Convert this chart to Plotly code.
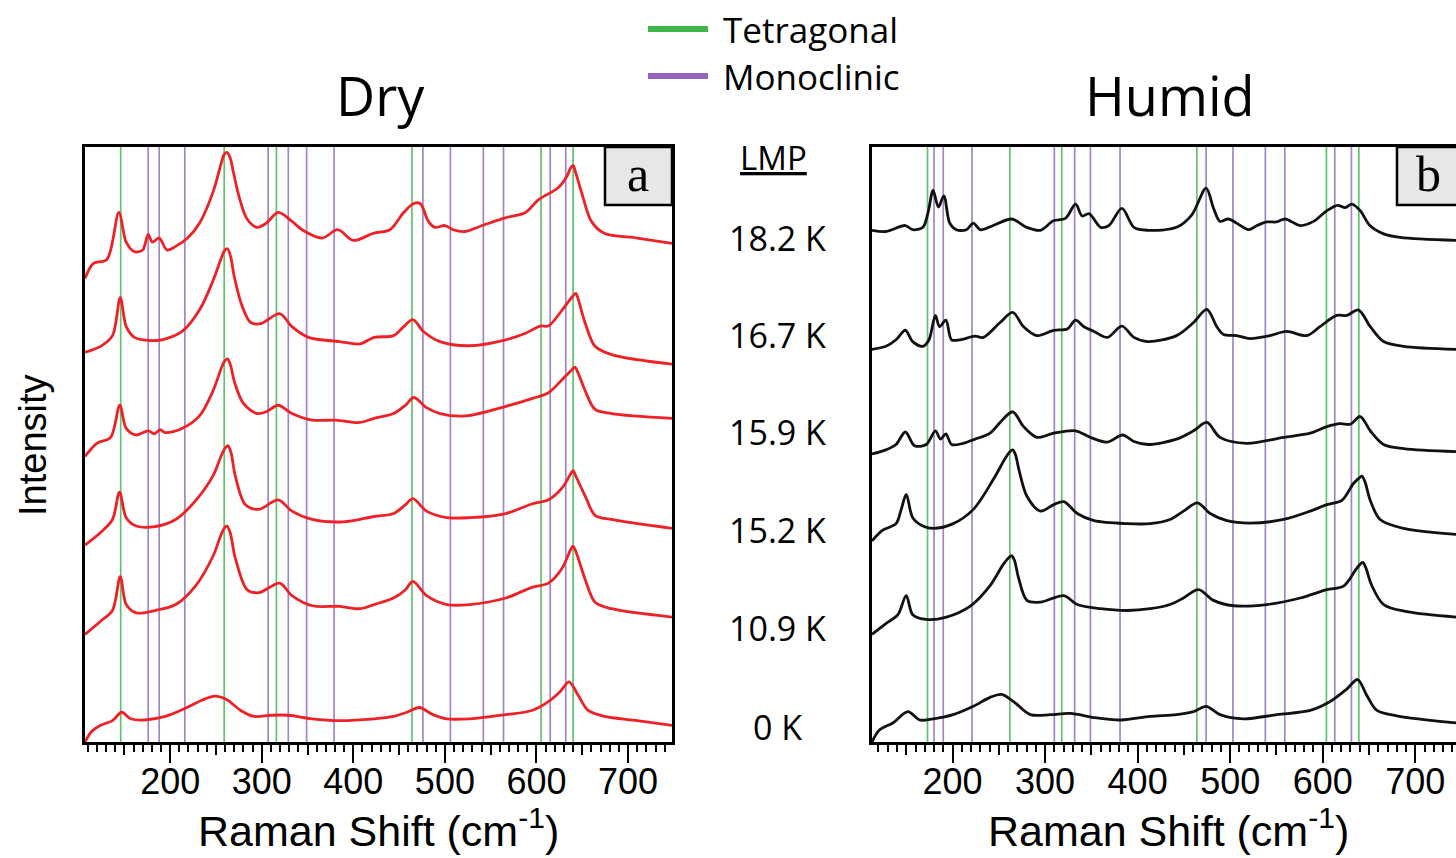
import plotly.graph_objects as go

W, H = 1456, 858

# ---------------- data ----------------
X_RANGE_A = [107, 748]
X_RANGE_B = [113, 744]
Y_RANGE = [0, 100]

TICK_MID = [150, 250, 350, 450, 550, 650, 750]

TETRA_A = [146, 259, 316, 464, 605, 640]
MONO_A = [176, 188, 216, 307, 329, 349, 379, 476, 506, 542, 564, 615, 632]
TETRA_B = [173, 262, 318, 464, 604, 639]
MONO_B = [180, 190, 221, 310, 332, 349, 381, 474, 503, 538, 559, 613, 631]

LMP_LABELS = ["18.2 K", "16.7 K", "15.9 K", "15.2 K", "10.9 K", "0 K"]

# Dry spectra (offset intensity, a.u.)
DRY_182_X = [107, 116, 131, 144, 152, 161, 170, 176, 180.5, 188, 196.5, 206, 219, 232, 247, 256, 258.5, 262, 265.5, 269, 275, 284, 295, 305, 318, 333, 344, 366, 383, 400, 422, 440, 455, 466, 473, 482, 489, 500, 509, 522, 541, 566, 588, 602, 624, 633, 637, 640, 643, 649, 660, 674, 710, 748]
DRY_182_Y = [77.9, 80.4, 81.1, 89.0, 84.0, 82.4, 82.7, 85.3, 84.0, 84.7, 82.7, 83.3, 84.7, 87.2, 92.5, 97.4, 98.6, 99.1, 98.2, 95.8, 91.8, 87.9, 86.5, 87.2, 89.0, 87.5, 86.1, 84.7, 86.1, 84.3, 85.5, 86.1, 89.0, 90.5, 90.5, 87.5, 86.5, 86.8, 86.1, 85.8, 86.8, 88.1, 89.0, 91.1, 93.2, 95.0, 96.4, 96.9, 95.6, 92.5, 87.5, 85.5, 84.7, 83.8]

DRY_167_X = [107, 124, 137, 145.5, 152, 161, 176, 191, 213, 232, 247, 256, 259.5, 262.6, 266, 270, 278.5, 288, 299, 319.6, 333, 351, 385, 407, 422.7, 444, 455, 465, 476.6, 494.6, 527, 566.5, 588, 604, 613, 628, 640, 643, 646, 653, 664, 682, 748]
DRY_167_Y = [65.5, 66.5, 68.3, 74.7, 69.8, 68.0, 67.5, 67.6, 69.0, 72.6, 77.6, 81.4, 82.6, 82.9, 81.6, 78.2, 73.3, 70.5, 70.3, 72.0, 69.8, 68.0, 67.3, 66.9, 68.0, 68.3, 69.8, 71.0, 69.0, 67.3, 66.6, 67.6, 68.7, 69.9, 69.9, 72.6, 75.0, 75.4, 74.2, 70.5, 66.5, 65.1, 63.5]

DRY_159_X = [107, 120, 135, 145, 152, 163, 176, 182.7, 189, 194.6, 213, 232, 247, 256, 259.5, 262.6, 266, 270, 280, 295, 305, 318, 333, 355, 381, 407, 422.7, 444, 457, 466, 480, 494.6, 523, 566.5, 595, 613, 628, 639, 642, 645.5, 653, 664, 682, 748]
DRY_159_Y = [48.0, 50.2, 51.2, 56.6, 52.7, 51.6, 52.3, 51.8, 52.5, 52.0, 52.7, 54.8, 59.1, 62.9, 64.0, 64.4, 63.3, 60.6, 56.9, 55.2, 55.5, 56.6, 55.2, 54.1, 54.1, 53.7, 54.4, 55.2, 56.6, 57.9, 56.2, 55.2, 54.8, 56.4, 57.7, 58.7, 60.9, 62.6, 63.0, 62.0, 59.1, 55.9, 55.2, 54.4]

DRY_152_X = [107, 124, 137, 144.7, 152, 163, 183.5, 206, 228, 247, 256, 260, 263, 266.5, 271, 282, 297, 318, 333, 355, 389, 422.7, 444, 457, 465, 480, 502, 527, 566.5, 595, 613, 628, 637.5, 640, 643.5, 653, 664, 682, 748]
DRY_152_Y = [33.1, 35.2, 37.4, 42.0, 37.7, 36.3, 36.2, 37.4, 40.6, 44.8, 48.2, 49.4, 49.8, 48.6, 44.8, 39.9, 39.1, 40.7, 38.8, 37.4, 37.0, 37.9, 38.4, 39.9, 40.9, 38.8, 37.7, 37.7, 38.4, 40.0, 40.7, 42.7, 45.1, 45.6, 44.5, 41.4, 38.1, 37.4, 35.9]

DRY_109_X = [107, 124, 137, 145.5, 152, 163, 183.5, 206, 228, 247, 255, 259, 262, 265.5, 271, 284, 297, 319.6, 333, 355, 385, 407, 422.7, 444, 457, 465, 480, 502, 527, 566.5, 595, 613, 628, 637.5, 640, 643.5, 653, 664, 682, 748]
DRY_109_Y = [18.1, 20.3, 22.1, 27.8, 23.1, 21.7, 22.1, 23.1, 26.3, 31.3, 34.6, 35.9, 36.3, 35.2, 31.0, 25.6, 25.1, 26.7, 24.6, 22.9, 22.8, 22.4, 23.1, 24.2, 25.6, 27.0, 24.6, 23.1, 23.1, 24.2, 26.0, 26.7, 29.2, 32.4, 32.9, 31.8, 27.4, 23.5, 22.4, 21.0]

DRY_0_X = [107, 114.5, 124, 137, 147, 157, 172, 194.6, 217, 235.7, 249, 262, 277, 292, 310, 329, 355, 385, 422.7, 444, 458.6, 472, 487, 502, 527, 566.5, 595, 613, 626, 635.6, 645.7, 656.5, 674.5, 710, 748]
DRY_0_Y = [0.0, 1.8, 2.8, 3.6, 5.0, 3.9, 3.7, 4.3, 5.7, 7.1, 7.7, 7.1, 5.3, 4.3, 4.5, 4.5, 3.9, 3.6, 3.9, 4.3, 5.0, 5.8, 4.6, 3.9, 3.9, 4.6, 5.3, 6.8, 8.5, 10.1, 7.8, 5.3, 4.3, 3.6, 2.8]

# Humid spectra
HUM_182_X = [113, 128, 149, 157, 168, 173.6, 179, 184.8, 190.6, 197, 204, 215, 222.5, 230, 244, 264, 280, 295, 309, 322, 333, 340, 347.5, 360, 369, 383, 396, 411, 442, 458.6, 474, 482, 489, 498, 511, 520, 529, 539.6, 550, 559.5, 575.7, 590, 604.5, 616, 624.3, 631.5, 640.5, 651, 665.8, 683.8, 744]
HUM_182_Y = [86.0, 85.8, 86.8, 86.1, 86.5, 89.0, 92.7, 89.9, 91.8, 87.2, 86.1, 86.1, 87.2, 86.1, 86.8, 87.9, 86.5, 86.0, 87.6, 88.0, 90.4, 88.4, 88.8, 86.5, 86.8, 89.7, 86.5, 86.0, 86.5, 88.6, 93.1, 89.7, 87.5, 87.9, 86.8, 86.1, 86.8, 87.4, 87.4, 87.9, 86.8, 87.5, 89.3, 90.2, 89.8, 90.4, 89.3, 86.8, 85.4, 84.8, 84.3]

HUM_167_X = [113, 128, 139, 149, 157, 168, 174.6, 181.5, 186, 192.8, 199, 208, 224.3, 233.3, 251.4, 265, 276.8, 291.3, 309.4, 324, 333, 342, 352.9, 367.4, 383, 396, 411, 442, 460.4, 474.8, 485.6, 492.8, 507, 521.6, 543, 561, 583, 597, 615, 626, 638.7, 651.4, 665.8, 687.4, 744]
HUM_167_Y = [66.0, 66.5, 67.6, 69.2, 67.3, 66.5, 67.6, 71.7, 69.8, 70.9, 67.6, 67.6, 68.2, 68.0, 70.5, 72.2, 69.8, 68.3, 69.2, 69.4, 70.9, 69.8, 69.0, 68.0, 69.9, 68.0, 67.3, 68.3, 70.5, 72.7, 69.8, 68.5, 68.3, 67.8, 68.3, 69.0, 68.3, 69.8, 71.7, 71.7, 72.6, 69.8, 67.3, 66.5, 66.0]

HUM_159_X = [113, 128, 139, 149, 159, 171.7, 181.5, 187, 192.8, 199, 211.6, 224.3, 240.6, 251.4, 265, 276.8, 291.3, 309.4, 333, 349, 367.4, 383.7, 396, 411, 442, 460.4, 474.8, 489, 518, 557.7, 586.5, 604.5, 619, 629.7, 640.5, 651.4, 665.8, 687.4, 744]
HUM_159_Y = [48.4, 49.1, 50.0, 52.1, 49.8, 50.0, 52.3, 50.9, 51.8, 50.0, 50.2, 50.9, 51.9, 53.7, 55.5, 53.0, 51.2, 51.9, 52.3, 51.2, 50.4, 51.6, 50.5, 50.0, 50.9, 52.3, 53.7, 51.2, 50.2, 51.2, 51.9, 53.0, 53.5, 53.4, 54.7, 52.3, 50.0, 49.3, 48.8]

HUM_152_X = [113, 124.6, 139, 144.6, 150, 157, 168, 179, 200.7, 222.5, 244, 257, 262, 265, 268, 272, 280.4, 295, 309.4, 320.3, 334.8, 352.9, 389, 413.5, 435, 449.5, 464.7, 478.4, 496.4, 521.6, 557.7, 586.5, 604.5, 620.7, 633, 639.5, 642.3, 645.5, 651.4, 662, 687.4, 744]
HUM_152_Y = [33.8, 35.6, 36.7, 39.1, 41.6, 37.7, 36.3, 35.9, 36.7, 39.1, 44.1, 47.7, 48.8, 49.1, 48.3, 45.6, 41.3, 38.8, 39.9, 40.4, 38.4, 37.2, 36.7, 36.7, 37.4, 38.8, 40.2, 38.4, 37.2, 36.8, 37.4, 38.8, 39.9, 40.6, 43.4, 44.4, 44.7, 43.8, 40.6, 37.4, 35.9, 34.9]

HUM_109_X = [113, 128, 141, 150, 157, 171.7, 193.5, 218.8, 240.6, 255, 261, 264, 267, 271, 280.4, 295, 320.3, 334.8, 360, 389, 413.5, 435, 449.5, 465.8, 482, 503.6, 539.6, 575.7, 604.5, 622.5, 635, 640.5, 643.4, 646.5, 653, 665.8, 691, 744]
HUM_109_Y = [18.1, 19.9, 21.4, 24.6, 21.4, 20.6, 21.0, 22.8, 26.3, 29.9, 31.0, 31.3, 30.5, 27.8, 23.8, 23.5, 24.6, 23.1, 22.4, 22.1, 22.4, 23.1, 24.2, 25.6, 23.8, 22.9, 23.1, 24.2, 25.6, 26.2, 28.8, 29.9, 30.2, 29.3, 26.3, 23.1, 21.9, 21.0]

HUM_0_X = [113, 121, 135.5, 151.8, 164.5, 179, 200.7, 222.5, 240.6, 253, 266, 284, 306, 327.5, 352.9, 382, 413.5, 442, 460.4, 474, 489, 514.4, 550.5, 586.5, 608, 626, 637.7, 647.7, 658.6, 680, 744]
HUM_0_Y = [0.0, 2.0, 3.2, 5.1, 3.7, 3.9, 4.6, 6.0, 7.5, 8.0, 6.8, 4.6, 4.6, 4.8, 4.1, 3.7, 4.3, 4.6, 5.1, 6.0, 4.6, 3.9, 4.6, 5.3, 6.8, 8.9, 10.5, 7.8, 5.3, 4.4, 3.2]

DRY_SERIES = [(DRY_182_X, DRY_182_Y), (DRY_167_X, DRY_167_Y), (DRY_159_X, DRY_159_Y),
              (DRY_152_X, DRY_152_Y), (DRY_109_X, DRY_109_Y), (DRY_0_X, DRY_0_Y)]
HUM_SERIES = [(HUM_182_X, HUM_182_Y), (HUM_167_X, HUM_167_Y), (HUM_159_X, HUM_159_Y),
              (HUM_152_X, HUM_152_Y), (HUM_109_X, HUM_109_Y), (HUM_0_X, HUM_0_Y)]

# ---------------- styling ----------------
RED = "#ee2127"
BLACK = "#111111"
GREEN_LINE = "#62c46a"
PURPLE_LINE = "#a385cc"
GREEN_LEG = "#3db54a"
PURPLE_LEG = "#9363bd"
SANS = "Open Sans, Noto Sans, sans-serif"
ARIAL = "Liberation Sans, Arial, sans-serif"
SERIF = "Liberation Serif, Times New Roman, serif"


def px(x):
    return x / W


def py(y):
    return 1 - y / H


XA = [px(85), px(672)]
XB = [px(872), 1.0]
YD = [py(742), py(147)]

fig = go.Figure()

for xs, ys in DRY_SERIES:
    fig.add_trace(go.Scatter(x=xs, y=ys, mode="lines", xaxis="x", yaxis="y",
                             line=dict(color=RED, width=2.8, shape="spline", smoothing=0.9),
                             showlegend=False, hoverinfo="skip"))
for xs, ys in HUM_SERIES:
    fig.add_trace(go.Scatter(x=xs, y=ys, mode="lines", xaxis="x2", yaxis="y2",
                             line=dict(color=BLACK, width=2.8, shape="spline", smoothing=0.9),
                             showlegend=False, hoverinfo="skip"))
# empty traces so the overlay tick axes are created
fig.add_trace(go.Scatter(x=[], y=[], xaxis="x3", yaxis="y", showlegend=False))
fig.add_trace(go.Scatter(x=[], y=[], xaxis="x4", yaxis="y2", showlegend=False))

shapes = []
for xr, yr, tet, mono in (("x", "y domain", TETRA_A, MONO_A), ("x2", "y2 domain", TETRA_B, MONO_B)):
    for v in mono:
        shapes.append(dict(type="line", xref=xr, yref=yr, x0=v, x1=v, y0=0, y1=1,
                           line=dict(color=PURPLE_LINE, width=1.7), layer="below"))
    for v in tet:
        shapes.append(dict(type="line", xref=xr, yref=yr, x0=v, x1=v, y0=0, y1=1,
                           line=dict(color=GREEN_LINE, width=1.7), layer="below"))

# panel label boxes
shapes.append(dict(type="rect", xref="paper", yref="paper", x0=px(605), x1=px(672), y0=py(205), y1=py(147),
                   fillcolor="#e6e7e8", line=dict(color="black", width=2.5), layer="above"))
shapes.append(dict(type="rect", xref="paper", yref="paper", x0=px(1397), x1=px(1475), y0=py(205), y1=py(147),
                   fillcolor="#e6e7e8", line=dict(color="black", width=2.5), layer="above"))
# legend lines
shapes.append(dict(type="line", xref="paper", yref="paper", x0=px(648), x1=px(708), y0=py(29), y1=py(29),
                   line=dict(color=GREEN_LEG, width=6)))
shapes.append(dict(type="line", xref="paper", yref="paper", x0=px(648), x1=px(708), y0=py(76), y1=py(76),
                   line=dict(color=PURPLE_LEG, width=6)))

ann = []


def add_text(text, x, y, size, family=SANS, xanchor="center", yanchor="middle", angle=0):
    ann.append(dict(text=text, x=px(x), y=py(y), xref="paper", yref="paper", showarrow=False,
                    xanchor=xanchor, yanchor=yanchor, textangle=angle,
                    font=dict(family=family, size=size, color="black")))


add_text("Dry", 380, 95, 54)
add_text("Humid", 1170, 95, 54)
add_text("Tetragonal", 721, 29, 35, xanchor="left")
add_text("Monoclinic", 721, 76, 35, xanchor="left")
add_text("<u>LMP</u>", 773, 158, 33)
lmp_y = [238, 335, 432, 530, 628, 727]
for lab, yy in zip(LMP_LABELS, lmp_y):
    add_text(lab, 777, yy, 34)
add_text("Intensity", 33, 445, 38, family=ARIAL, angle=-90)
add_text("Raman Shift (cm<sup>-1</sup>)", 378, 828, 43, family=ARIAL)
add_text("Raman Shift (cm<sup>-1</sup>)", 1168, 828, 43, family=ARIAL)
add_text("a", 638, 174, 50, family=SERIF)
add_text("b", 1428, 174, 50, family=SERIF)

tickfont = dict(family=ARIAL, size=36, color="black")


def main_x(domain, rng, anchor):
    return dict(domain=domain, range=rng, anchor=anchor, showline=True, linecolor="black",
                linewidth=2.6, mirror=True, ticks="outside", ticklen=18, tickwidth=2,
                tickcolor="black", dtick=100, tick0=0, showgrid=False, zeroline=False,
                tickfont=tickfont, ticklabelstandoff=-12,
                minor=dict(dtick=10, tick0=0, ticks="outside", ticklen=7, tickwidth=2,
                           tickcolor="black", showgrid=False))


def mid_x(over, rng, anchor):
    return dict(overlaying=over, range=rng, anchor=anchor, showline=False, ticks="outside",
                ticklen=12, tickwidth=2, tickcolor="black", tickvals=TICK_MID,
                showticklabels=False, showgrid=False, zeroline=False)


fig.update_layout(
    width=W, height=H,
    margin=dict(l=0, r=0, t=0, b=0),
    paper_bgcolor="white", plot_bgcolor="white",
    showlegend=False,
    xaxis=main_x(XA, X_RANGE_A, "y"),
    xaxis2=main_x(XB, X_RANGE_B, "y2"),
    xaxis3=mid_x("x", X_RANGE_A, "y"),
    xaxis4=mid_x("x2", X_RANGE_B, "y2"),
    yaxis=dict(domain=YD, range=Y_RANGE, anchor="x", showline=True, linecolor="black",
               linewidth=2.6, mirror=True, ticks="", showticklabels=False,
               showgrid=False, zeroline=False),
    yaxis2=dict(domain=YD, range=Y_RANGE, anchor="x2", showline=True, linecolor="black",
                linewidth=2.6, mirror=False, ticks="", showticklabels=False,
                showgrid=False, zeroline=False),
    shapes=shapes,
    annotations=ann,
)

fig.write_html("out.html")
